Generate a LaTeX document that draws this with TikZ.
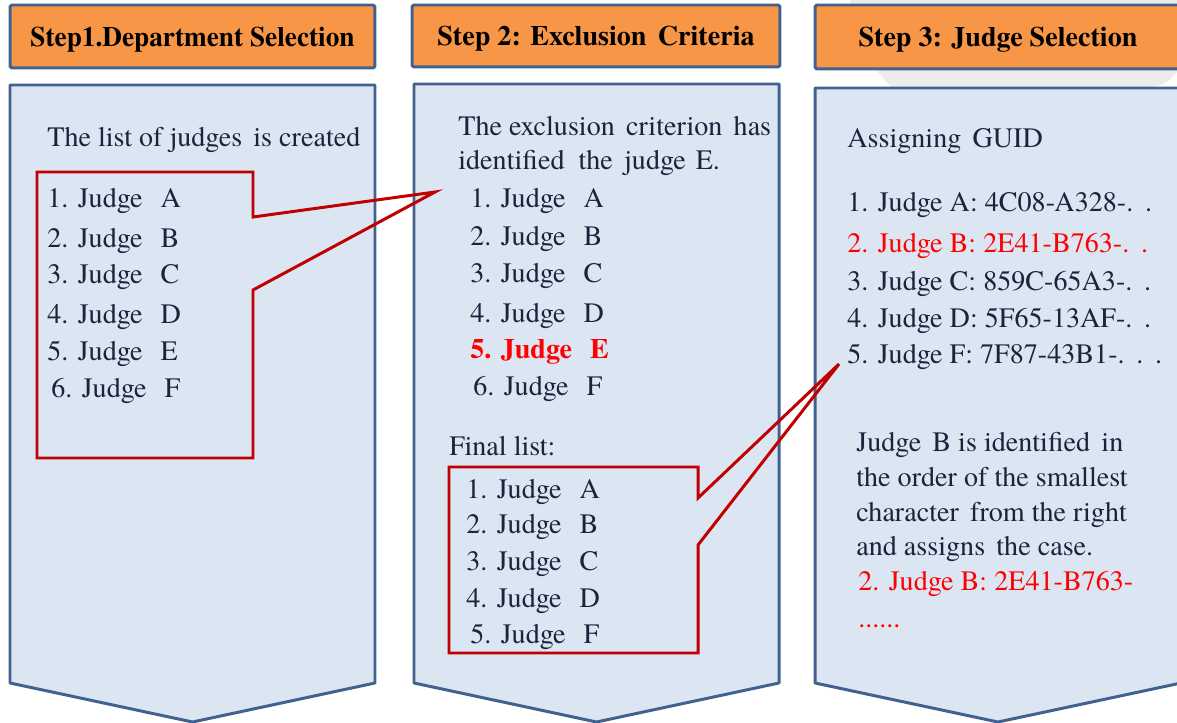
\documentclass[tikz,border=0pt]{standalone}
\usepackage{fontspec}
\setmainfont{texgyretermes}[Extension=.otf, UprightFont=*-regular, BoldFont=*-bold, ItalicFont=*-italic, BoldItalicFont=*-bolditalic]
\usetikzlibrary{positioning}
\definecolor{stepOrange}{RGB}{247,150,70}
\definecolor{stepEdge}{RGB}{65,98,143}
\definecolor{panelFill}{RGB}{220,230,242}
\definecolor{calloutRed}{RGB}{192,0,0}
\definecolor{listInk}{RGB}{23,37,61}
\definecolor{hitRed}{RGB}{255,0,0}
\definecolor{shadeGrey}{RGB}{236,236,236}
\newcommand{\headfont}{\fontsize{16}{19}\selectfont\bfseries}
\newcommand{\bodyfont}{\fontsize{16}{19.8}\selectfont}
\newcommand{\jgap}{\hspace{0.64em}}
\newcommand{\panelshape}[3]{\filldraw[panel] (#1,#3) -- (#2,#3) -- (#2,683) -- ({(#1+#2)/2},722) -- (#1,683) -- cycle;}
\tikzset{
  stephead/.style={draw=stepEdge, line width=1.7pt, fill=stepOrange, rounded corners=1pt,
    font=\headfont, text=black, inner sep=0pt, text depth=0pt},
  panel/.style={draw=stepEdge, line width=1.7pt, fill=panelFill, line join=round},
  callout/.style={draw=calloutRed, line width=1.7pt},
  item/.style={anchor=base west, inner sep=0pt, font=\bodyfont, text=listInk},
  hit/.style={item, text=hitRed},
}

\begin{document}
\begin{tikzpicture}[x=0.02cm,y=-0.02cm]
  \useasboundingbox (0,0) rectangle (1177,723);
  % faint shape behind step 3
  \fill[shadeGrey] (850,0) -- (1177,0) -- (1177,72) .. controls (1166,84) .. (1148,88)
    -- (892,88) .. controls (884,80) .. (876,70) -- (850,5) -- cycle;
  % panels
  \panelshape{10}{375}{85}
  \panelshape{414}{779}{84}
  \panelshape{815}{1181}{88}
  % step headers
  \node[stephead, minimum width=7.3cm, minimum height=1.26cm] (step1) at (192.5,36.5) {\scalebox{0.97}[1]{Step1.Department Selection}};
  \node[stephead, minimum width=7.36cm, minimum height=1.24cm] (step2) at (596,36) {Step 2: Exclusion\hspace{0.4em}Criteria};
  \node[stephead, minimum width=7.32cm, minimum height=1.28cm] (step3) at (998,37) {Step 3: Judge Selection};
  % callouts
  \coordinate (tipA) at (435,192);
  \draw[callout] (37,172) -- (253,172) -- (253,217) -- (tipA) -- (253,290) -- (253,458) -- (37,458) -- cycle;
  \coordinate (tipB) at (839,364);
  \draw[callout] (449,467) -- (698,467) -- (698,498) -- (tipB) -- (698,545) -- (698,653) -- (449,653) -- cycle;

  % step 1
  \node[item] (intro1) at (47,147) {The list of judges\hspace{0.4em}is created};
  \foreach \yy/\who [count=\i] in {208/A,247/B,283/C,323/D,360/E}
    \node[item] (listA\i) at (47,\yy) {\i. Judge\jgap\who};
  \node[item] (listA6) at (51,397) {6. Judge\jgap F};

  % step 2
  \node[item] (intro2a) at (458,135) {The exclusion\hspace{0.4em}criterion\hspace{0.4em}has};
  \node[item] (intro2b) at (458,170) {identified\hspace{0.5em}the\hspace{0.4em}judge\hspace{0.35em}E.};
  \foreach \yy/\who [count=\i] in {207/A,245/B,282/C,322/D}
    \node[item] (listB\i) at (470,\yy) {\i. Judge\jgap\who};
  \node[hit, font=\bodyfont\bfseries] (listB5) at (470,358) {5. Judge\jgap E};
  \node[item] (listB6) at (473,395) {6. Judge\jgap F};
  \node[item] (final) at (449,455) {Final list:};
  \foreach \yy/\who [count=\i] in {498/A,533/B,570/C,607/D}
    \node[item] (listC\i) at (466,\yy) {\i. Judge\jgap\who};
  \node[item] (listC5) at (470,643) {5. Judge\jgap F};

  % step 3
  \node[item] (guid) at (847,148) {Assigning\hspace{0.4em}GUID};
  \node[item] (guid1) at (847,212) {1. Judge A: 4C08-A328-.\ \,.};
  \node[hit] (guid2) at (847,252) {2. Judge B: 2E41-B763-.\ \,.};
  \node[item] (guid3) at (847,290) {3. Judge C: 859C-65A3-.\ \,.};
  \node[item] (guid4) at (847,327) {4. Judge D: 5F65-13AF-.\ \,.};
  \node[item] (guid5) at (847,363) {5. Judge F: 7F87-43B1-.\ \,.\ \,.};
  \node[item, align=left, anchor=north west] (rule) at (856,432)
    {Judge\hspace{0.4em}B is identified\hspace{0.4em}in\\the order of the smallest\\character\hspace{0.4em}from the right\\and assigns\hspace{0.4em}the case.};
  \node[hit] (pick) at (858,590) {2. Judge B: 2E41-B763-};
  \node[hit] (more) at (858,627) {......};
\end{tikzpicture}
\end{document}
